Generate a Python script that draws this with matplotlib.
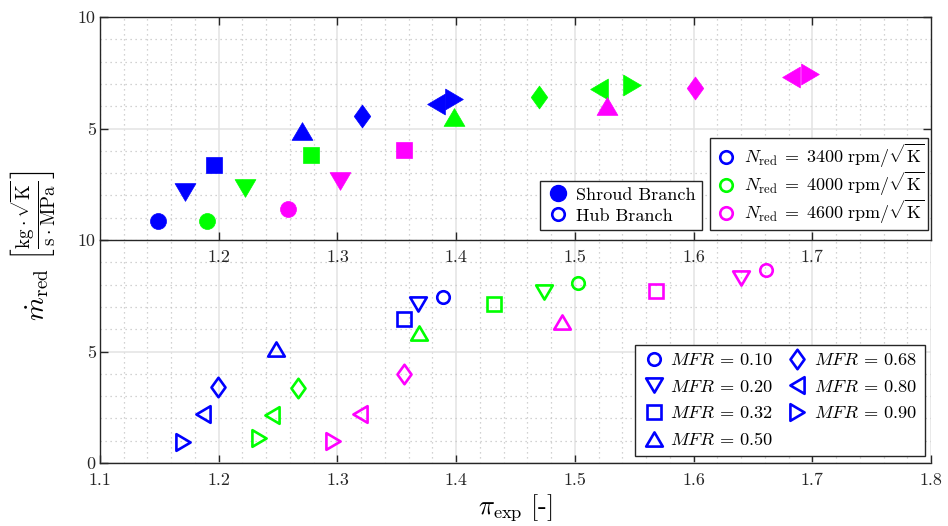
import matplotlib
matplotlib.use("Agg")
import matplotlib.pyplot as plt
from matplotlib.path import Path
from matplotlib.lines import Line2D
from matplotlib.ticker import MultipleLocator

plt.rcParams["font.family"] = "serif"
plt.rcParams["font.serif"] = ["cmr10"]
plt.rcParams["mathtext.fontset"] = "cm"
plt.rcParams["axes.formatter.use_mathtext"] = True

# ---------------------------------------------------------------- data
mfr_values = [0.10, 0.20, 0.32, 0.50, 0.68, 0.80, 0.90]
speeds = [3400, 4000, 4600]
speed_colors = ["#0000ff", "#00ff00", "#ff00ff"]

# Shroud branch: expansion ratio and reduced mass flow, one row per speed line
shroud_pi = [
    [1.149, 1.172, 1.196, 1.270, 1.321, 1.383, 1.398],
    [1.190, 1.222, 1.278, 1.398, 1.470, 1.520, 1.548],
    [1.258, 1.302, 1.356, 1.527, 1.601, 1.682, 1.698],
]
shroud_m = [
    [0.87, 2.17, 3.38, 4.90, 5.56, 6.11, 6.31],
    [0.84, 2.35, 3.83, 5.53, 6.40, 6.76, 6.95],
    [1.38, 2.65, 4.05, 6.01, 6.83, 7.32, 7.44],
]

# Hub branch
hub_pi = [
    [1.389, 1.368, 1.356, 1.248, 1.199, 1.187, 1.170],
    [1.503, 1.474, 1.432, 1.369, 1.267, 1.245, 1.234],
    [1.661, 1.640, 1.568, 1.489, 1.356, 1.319, 1.296],
]
hub_m = [
    [7.46, 7.12, 6.47, 5.10, 3.42, 2.18, 0.93],
    [8.06, 7.65, 7.13, 5.81, 3.38, 2.15, 1.11],
    [8.65, 8.31, 7.73, 6.31, 3.98, 2.20, 0.99],
]

x_ticks_top = [1.2, 1.3, 1.4, 1.5, 1.6, 1.7]
x_ticks_bottom = [1.1, 1.2, 1.3, 1.4, 1.5, 1.6, 1.7, 1.8]
y_ticks_top = [5, 10]
y_ticks_bottom = [0, 5, 10]


# ---------------------------------------------------------------- markers
def poly(verts):
    return Path(list(verts) + [verts[0]], closed=True)


marker_shapes = [
    "o",
    poly([(-1, 0.85), (1, 0.85), (0, -0.85)]),    # down
    "s",
    poly([(-1, -0.85), (1, -0.85), (0, 0.85)]),   # up
    poly([(0, -1), (0.72, 0), (0, 1), (-0.72, 0)]),  # diamond
    poly([(0.85, -1), (0.85, 1), (-0.85, 0)]),    # left
    poly([(-0.85, -1), (-0.85, 1), (0.85, 0)]),   # right
]
filled_sizes = [11.5, 15.0, 11.5, 15.0, 16.5, 15.0, 15.0]
open_sizes = [9.0, 12.0, 10.0, 12.0, 14.0, 12.0, 12.0]
open_mew = 1.9

fig = plt.figure(figsize=(9.48, 5.26), dpi=100)
ax_lo = fig.add_axes([100 / 948, 1 - 463 / 526, 831 / 948, 223 / 526])
ax_up = fig.add_axes([100 / 948, 1 - 240 / 526, 831 / 948, 223 / 526])

for ax in (ax_up, ax_lo):
    ax.set_xlim(1.1, 1.8)
    ax.set_ylim(0, 10)
    ax.xaxis.set_minor_locator(MultipleLocator(0.02))
    ax.yaxis.set_minor_locator(MultipleLocator(1))
    ax.grid(which="major", color="#e3e3e3", linewidth=1.1, linestyle="-")
    ax.grid(which="minor", color="#c4c4c4", linewidth=0.9, linestyle=(0, (1, 3)))
    ax.set_axisbelow(True)
    ax.tick_params(which="major", direction="in", length=6, width=1.0,
                   labelsize=13, colors="#262626")
    ax.tick_params(which="minor", length=0)
    ax.tick_params(axis="x", pad=7)
    ax.tick_params(axis="y", pad=3)
    for s in ax.spines.values():
        s.set_color("#262626")
        s.set_linewidth(1.0)
    ax.patch.set_alpha(0.0)

ax_up.set_xticks(x_ticks_top)
ax_up.set_xticklabels([f"{v:.1f}" for v in x_ticks_top])
ax_up.set_yticks(y_ticks_top)
ax_up.set_yticklabels([str(v) for v in y_ticks_top])
ax_up.tick_params(which="major", top=True, right=True)

ax_lo.set_xticks(x_ticks_bottom)
ax_lo.set_xticklabels([f"{v:.1f}" for v in x_ticks_bottom])
ax_lo.set_yticks(y_ticks_bottom)
ax_lo.set_yticklabels([str(v) for v in y_ticks_bottom])
ax_lo.spines["top"].set_visible(False)
ax_lo.spines["right"].set_visible(False)

# shroud branch: filled markers
for color, xs, ys in zip(speed_colors, shroud_pi, shroud_m):
    for m, ms, x, y in zip(marker_shapes, filled_sizes, xs, ys):
        ax_up.plot(x, y, linestyle="none", marker=m, markersize=ms,
                   markerfacecolor=color, markeredgecolor=color,
                   markeredgewidth=0.5, zorder=3)

# hub branch: open markers
for color, xs, ys in zip(speed_colors, hub_pi, hub_m):
    for m, ms, x, y in zip(marker_shapes, open_sizes, xs, ys):
        ax_lo.plot(x, y, linestyle="none", marker=m, markersize=ms,
                   markerfacecolor="none", markeredgecolor=color,
                   markeredgewidth=open_mew, zorder=3)

legend_kw = dict(frameon=True, fancybox=False, framealpha=1.0,
                 edgecolor="#262626", borderaxespad=0.0)

branch_handles = [
    Line2D([], [], linestyle="none", marker="o", markersize=11.5,
           markerfacecolor="#0000ff", markeredgecolor="#0000ff"),
    Line2D([], [], linestyle="none", marker="o", markersize=9.0,
           markerfacecolor="none", markeredgecolor="#0000ff",
           markeredgewidth=open_mew),
]
leg1 = ax_up.legend(branch_handles, ["Shroud Branch", "Hub Branch"],
                    loc="lower right", bbox_to_anchor=(0.7244, 0.045),
                    fontsize=13, handlelength=1.3, handletextpad=0.35,
                    labelspacing=0.3, borderpad=0.35, **legend_kw)
leg1.get_frame().set_linewidth(1.0)
ax_up.add_artist(leg1)

speed_handles = [
    Line2D([], [], linestyle="none", marker="o", markersize=9.0,
           markerfacecolor="none", markeredgecolor=c, markeredgewidth=open_mew)
    for c in speed_colors
]
speed_labels = [rf"$N_{{\rm red}}\;=\;{n}\ {{\rm rpm}}/\sqrt{{\rm K}}$" for n in speeds]
leg2 = ax_up.legend(speed_handles, speed_labels,
                    loc="lower right", bbox_to_anchor=(0.9964, 0.045),
                    fontsize=13, handlelength=1.3, handletextpad=0.35,
                    labelspacing=0.0, borderpad=0.2, **legend_kw)
leg2.get_frame().set_linewidth(1.0)

mfr_handles = [
    Line2D([], [], linestyle="none", marker=m, markersize=ms,
           markerfacecolor="none", markeredgecolor="#0000ff",
           markeredgewidth=open_mew)
    for m, ms in zip(marker_shapes, open_sizes)
]
mfr_labels = [rf"$MFR\,=\,{v:.2f}$" for v in mfr_values]
leg3 = ax_lo.legend(mfr_handles, mfr_labels, ncol=2,
                    loc="lower right", bbox_to_anchor=(0.9928, 0.031),
                    fontsize=13.2, handlelength=1.2, handletextpad=0.3,
                    labelspacing=0.56, columnspacing=0.7, borderpad=0.43,
                    **legend_kw)
leg3.get_frame().set_linewidth(1.0)

ax_lo.set_xlabel(r"$\pi_{\rm exp}\ [\mathrm{\text{-}}]$", fontsize=19, labelpad=3)
fig.text(33 / 948, 1 - 246 / 526,
         r"$\dot{m}_{\rm red}\ \left[\frac{{\rm kg}\cdot\sqrt{\rm K}}{{\rm s}\cdot{\rm MPa}}\right]$",
         rotation=90, ha="center", va="center", fontsize=19.5)

fig.savefig("out.png", dpi=100)
